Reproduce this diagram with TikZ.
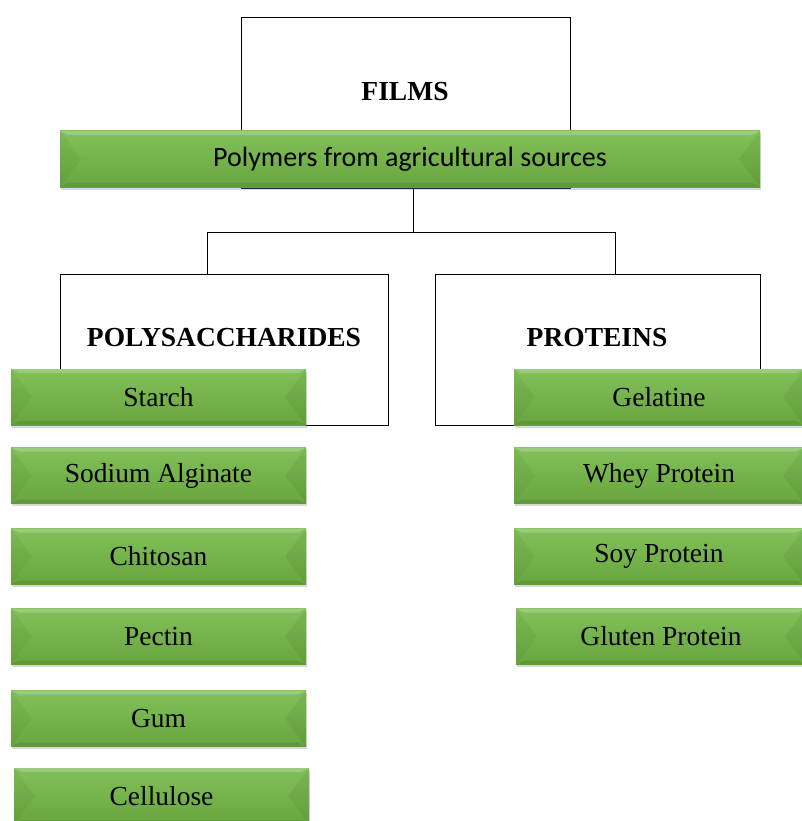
\documentclass[tikz,border=0pt]{standalone}
\usepackage{fontspec}
\setmainfont{Liberation Serif}
\newfontfamily\bannerfont{Carlito}
\usetikzlibrary{shadows}
\definecolor{gtop}{RGB}{130,192,90}
\definecolor{gbot}{RGB}{104,165,62}

\begin{document}
\begin{tikzpicture}[x=1pt,y=-1pt,
  catbox/.style={draw,line width=0.8pt,fill=white,inner sep=0pt},
  cattext/.style={font=\fontsize{27.5}{30}\selectfont\bfseries},
  conn/.style={line width=0.8pt},
  greenbox/.style={inner sep=0pt,minimum height=56pt,top color=gtop,bottom color=gbot,
    font=\fontsize{27.5}{30}\selectfont,
    drop shadow={opacity=0.3,shadow xshift=1pt,shadow yshift=-2.5pt},
    path picture={
      \fill[black,opacity=0.04] (path picture bounding box.north west) -- ([xshift=21pt]path picture bounding box.west) -- (path picture bounding box.south west) -- cycle;
      \fill[black,opacity=0.05] (path picture bounding box.north east) -- ([xshift=-21pt]path picture bounding box.east) -- (path picture bounding box.south east) -- cycle;
      \fill[white,opacity=0.2] (path picture bounding box.north west) -- (path picture bounding box.north east) -- ([xshift=-8pt,yshift=-4pt]path picture bounding box.north east) -- ([xshift=8pt,yshift=-4pt]path picture bounding box.north west) -- cycle;
      \fill[black,opacity=0.08] (path picture bounding box.south west) -- (path picture bounding box.south east) -- ([xshift=-8pt,yshift=4pt]path picture bounding box.south east) -- ([xshift=8pt,yshift=4pt]path picture bounding box.south west) -- cycle;
    }}]
\clip (0,0) rectangle (802,821);
\fill[white] (0,0) rectangle (802,821);

% white category boxes
\node [catbox,minimum width=329pt,minimum height=171pt] (films) at (405.5,102.5) {};
\node [cattext] at (405,92) {FILMS};
\node [catbox,minimum width=328pt,minimum height=151pt] (poly) at (224,349.5) {};
\node [cattext] at (224,338) {POLYSACCHARIDES};
\node [catbox,minimum width=325pt,minimum height=151pt] (prot) at (597.5,349.5) {};
\node [cattext] at (597,338) {PROTEINS};

% connector
\coordinate (fork) at (413,232);
\coordinate (lfoot) at (207,274);
\coordinate (rfoot) at (615,274);
\draw [conn] (413,187) -- (fork);
\draw [conn] (fork) -| (lfoot);
\draw [conn] (fork) -| (rfoot);

% banner
\node [greenbox,minimum width=700pt,font=\bannerfont\fontsize{28}{30}\selectfont] (banner) at (410,159) {Polymers from agricultural sources};

% polysaccharides
\node [greenbox,minimum width=295pt] (starch) at (158.5,397) {Starch};
\node [greenbox,minimum width=295pt] (alginate) at (158.5,475.5) {Sodium Alginate};
\node [greenbox,minimum width=295pt] (chitosan) at (158.5,556.5) {Chitosan};
\node [greenbox,minimum width=295pt] (pectin) at (158.5,636.5) {Pectin};
\node [greenbox,minimum width=295pt] (gum) at (158.5,718.5) {Gum};
\node [greenbox,minimum width=295pt] (cellulose) at (161.5,796) {Cellulose};

% proteins
\node [greenbox,minimum width=290pt] (gelatine) at (659,397) {Gelatine};
\node [greenbox,minimum width=290pt] (whey) at (659,475.5) {Whey Protein};
\node [greenbox,minimum width=290pt] (soy) at (659,556.5) {Soy Protein};
\node [greenbox,minimum width=290pt] (gluten) at (661,636.5) {Gluten Protein};
\end{tikzpicture}
\end{document}
